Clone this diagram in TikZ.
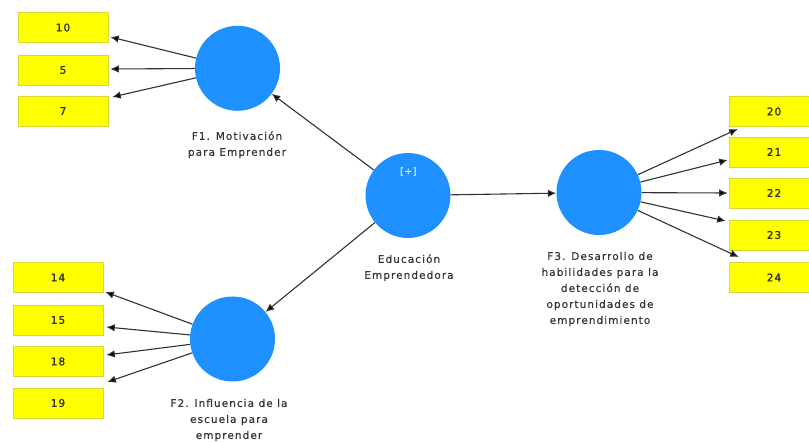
\documentclass[tikz,border=0pt]{standalone}
\usepackage{fontspec}
\newfontfamily\labfont[LetterSpace=10,FakeBold=0.6]{DejaVu Sans}
\newfontfamily\numfont[LetterSpace=10,FakeBold=1.2]{DejaVu Sans}
\usetikzlibrary{arrows.meta,calc}
\definecolor{lvblue}{RGB}{30,144,255}
\definecolor{indyel}{RGB}{255,255,0}
\definecolor{indedge}{RGB}{215,215,60}
\definecolor{labgray}{RGB}{55,55,55}
\definecolor{numgray}{RGB}{50,50,30}
\definecolor{linegray}{RGB}{50,50,50}
\begin{document}
\begin{tikzpicture}[x=1pt,y=-1pt,
  latent/.style={circle,fill=lvblue,minimum size=85pt,inner sep=0pt},
  indbox/.style={rectangle,fill=indyel,draw=indedge,line width=0.6pt,minimum width=90pt,minimum height=30pt,inner sep=0pt,font=\numfont\fontsize{10.5}{12}\selectfont,text=numgray},
  lvlabel/.style={align=center,font=\labfont\fontsize{10.5}{16}\selectfont,text=labgray,inner sep=0pt},
  link/.style={draw=linegray,line width=1.1pt,-{Latex[length=8.5pt,width=7.5pt,fill=black]}}]
\useasboundingbox (0,0) rectangle (809,443);
\fill[white] (0,0) rectangle (809,443);
% latent variables
\node[latent] (f1) at (237.5,68.3) {};
\node[latent] (f2) at (232.5,339) {};
\node[latent] (edu) at (408,195.5) {};
\node[latent] (f3) at (599,192.5) {};
\node[font=\labfont\fontsize{9}{10}\selectfont,text=white] (plus) at (408.3,171.5) {[+]};
% labels
\node[lvlabel] (lf1) at (237,144.7) {F1. Motivación\\para Emprender};
\node[lvlabel] (ledu) at (409,267.7) {Educación\\Emprendedora};
\node[lvlabel] (lf2) at (229,420) {F2. Influencia de la\\escuela para\\emprender};
\node[lvlabel] (lf3) at (600,289) {F3. Desarrollo de\\habilidades para la\\detección de\\oportunidades de\\emprendimiento};
% indicator boxes
\node[indbox] (b10) at (63,27.5) {10};
\node[indbox] (b5) at (63,70) {5};
\node[indbox] (b7) at (63,111) {7};
\node[indbox] (b14) at (58,277.5) {14};
\node[indbox] (b15) at (58,320) {15};
\node[indbox] (b18) at (58,361.5) {18};
\node[indbox] (b19) at (58,403) {19};
\node[indbox] (b20) at (774,111.5) {20};
\node[indbox] (b21) at (774,152) {21};
\node[indbox] (b22) at (774,193) {22};
\node[indbox] (b23) at (774,235) {23};
\node[indbox] (b24) at (774,277.5) {24};
% arrow tips
\coordinate (t10) at ($(b10.east)+(2,9.5)$);
\coordinate (t5) at ($(b5.east)+(2,-1)$);
\coordinate (t7) at ($(b7.east)+(4,-14)$);
\coordinate (t14) at ($(b14.east)+(2,14.5)$);
\coordinate (t15) at ($(b15.east)+(3,7)$);
\coordinate (t18) at ($(b18.east)+(3,-6.5)$);
\coordinate (t19) at ($(b19.east)+(4,-21)$);
\coordinate (t20) at ($(b20.west)+(9,17.5)$);
\coordinate (t21) at ($(b21.west)+(-1,8)$);
\coordinate (t22) at ($(b22.west)+(-1,0)$);
\coordinate (t23) at ($(b23.west)+(-3,-14)$);
\coordinate (t24) at ($(b24.west)+(10,-20.5)$);
% connectors
\foreach \t in {t10,t5,t7} \draw[link] (f1) -- (\t);
\foreach \t in {t14,t15,t18,t19} \draw[link] (f2) -- (\t);
\foreach \t in {t20,t21,t22,t23,t24} \draw[link] (f3) -- (\t);
\draw[link] (edu) -- (f1);
\draw[link] (edu) -- (f2);
\draw[link] (edu) -- (f3);
\end{tikzpicture}
\end{document}
